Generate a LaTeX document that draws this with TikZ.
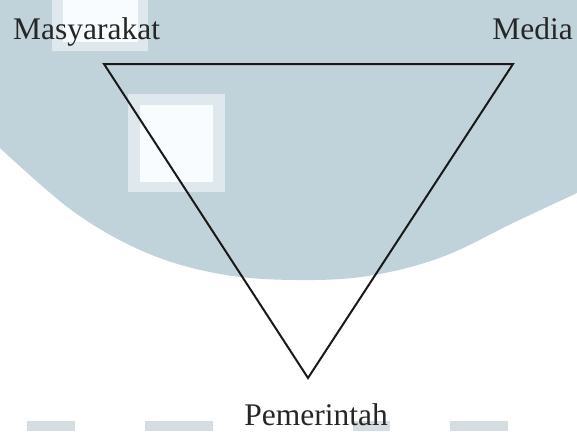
\documentclass[tikz,border=0pt]{standalone}
\usepackage{fontspec}
\setmainfont{Liberation Serif}
\usetikzlibrary{positioning}
\definecolor{wmblue}{RGB}{193,211,218}
\definecolor{wmedge}{RGB}{222,232,237}
\definecolor{wmwhite}{RGB}{248,252,255}
\definecolor{wmgray}{RGB}{214,221,225}
\tikzset{
  label text/.style={font=\fontsize{31.5}{36}\selectfont, text=black!85, inner sep=0pt},
  edge line/.style={line width=2pt, draw=black!90, line join=miter}
}

\begin{document}
\begin{tikzpicture}[x=1pt,y=-1pt]
  \useasboundingbox (0,0) rectangle (577,431);

  % Watermark background
  \fill[wmblue] (0,0) -- (577,0) -- plot[smooth, tension=0.6] coordinates {(577,193) (515,222)
    (442,257) (368,276) (294,280) (220,274) (147,253) (74,212) (0,148)} -- cycle;
  \fill[wmedge] (52,0) rectangle (148,51);
  \fill[wmwhite] (63,0) rectangle (138,42);
  \fill[wmedge] (128,94) rectangle (225,192);
  \fill[wmwhite] (140,105) rectangle (213,182);
  \foreach \xa/\xb in {27/75,145/213,353/390,450/508} {
    \fill[wmgray] (\xa,421) rectangle (\xb,431);
  }

  % Triangle
  \coordinate (masy) at (104,64);
  \coordinate (media) at (513,64);
  \coordinate (pem) at (308,378);
  \draw[edge line] (masy) -- (media) -- (pem) -- cycle;

  % Labels
  \node[label text, anchor=base west] (lblmasy) at (13,39) {Masyarakat};
  \node[label text, anchor=base east] (lblmedia) at (573,39) {Media};
  \node[label text, anchor=base] (lblpem) at (316,425) {Pemerintah};
\end{tikzpicture}
\end{document}
